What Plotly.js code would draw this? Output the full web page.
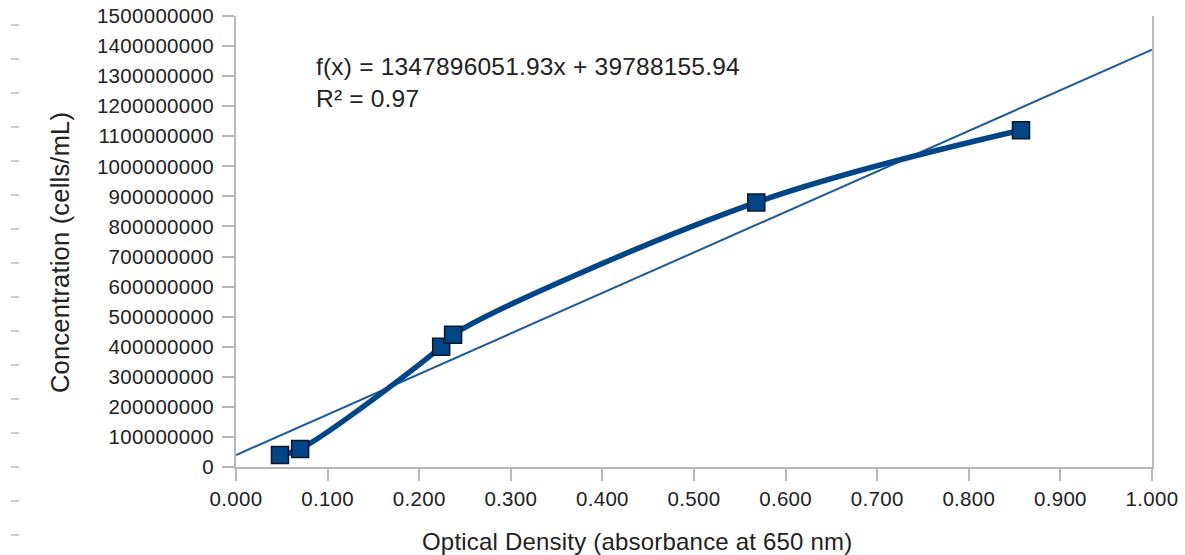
<!DOCTYPE html>
<html>
<head>
<meta charset="utf-8">
<script src="https://cdn.plot.ly/plotly-3.0.1.min.js"></script>
<style>
  html, body { margin: 0; padding: 0; background: #ffffff; }
  #chart { width: 1185px; height: 555px; }
  .xtick text, .ytick text { letter-spacing: 0.3px; }
  .annotation-text { letter-spacing: 0.2px; }
  .annotation:first-of-type .annotation-text { letter-spacing: 0.4px; }
</style>
</head>
<body>
<div id="chart"></div>
<script>
// Calibration: optical density vs. cell concentration
const opticalDensity = [0.048, 0.070, 0.224, 0.237, 0.568, 0.857];
const concentration  = [4.0e7, 6.0e7, 4.0e8, 4.4e8, 8.8e8, 1.12e9];

// Linear fit reported for the series
const fitSlope = 1347896051.93;
const fitIntercept = 39788155.94;
const fitR2 = 0.97;
const fitRange = [0, 1];

const xTickValues = [0, 0.1, 0.2, 0.3, 0.4, 0.5, 0.6, 0.7, 0.8, 0.9, 1.0];
const yTickValues = [0, 1e8, 2e8, 3e8, 4e8, 5e8, 6e8, 7e8, 8e8, 9e8, 1e9, 1.1e9, 1.2e9, 1.3e9, 1.4e9, 1.5e9];

const xTitle = 'Optical Density (absorbance at 650 nm)';
const yTitle = 'Concentration (cells/mL)';

const seriesColor = '#004586';
const axisColor = '#b8b8b8';
const textColor = '#222222';
const fontFamily = '"Liberation Sans", Arial, sans-serif';

const W = 1185, H = 555;
const margin = { l: 236, r: 33, t: 16, b: 88 };

// Convert page pixels to paper coordinates (titles and the faint row guides on the left)
const plotW = W - margin.l - margin.r;
const plotH = H - margin.t - margin.b;
const toPaperX = px => (px - margin.l) / plotW;
const toPaperY = py => (H - margin.b - py) / plotH;

const rowGuides = [];
for (let k = 0; k < 16; k++) {
  const py = 25 + 34 * k;
  rowGuides.push({
    type: 'line', xref: 'paper', yref: 'paper',
    x0: toPaperX(11), x1: toPaperX(19), y0: toPaperY(py), y1: toPaperY(py),
    line: { color: '#cccccc', width: 2 }
  });
}

const fitY = fitRange.map(x => fitSlope * x + fitIntercept);

const traces = [
  {
    x: fitRange, y: fitY, type: 'scatter', mode: 'lines',
    line: { color: '#1d5c99', width: 2 },
    hoverinfo: 'skip', showlegend: false
  },
  {
    x: opticalDensity, y: concentration, type: 'scatter', mode: 'lines+markers',
    line: { color: seriesColor, width: 5.5, shape: 'spline', smoothing: 1 },
    marker: { symbol: 'square', size: 17, color: seriesColor, line: { color: '#0a1a2a', width: 1.5 } },
    showlegend: false
  }
];

const layout = {
  width: W, height: H,
  margin: margin,
  paper_bgcolor: '#ffffff', plot_bgcolor: '#ffffff',
  font: { family: fontFamily, color: textColor, size: 21 },
  showlegend: false,
  xaxis: {
    range: [0, 1], tickvals: xTickValues,
    tickformat: '.3f',
    showgrid: false, zeroline: false,
    showline: true, linecolor: axisColor, linewidth: 2,
    ticks: 'outside', ticklen: 12, tickwidth: 2, tickcolor: axisColor,
    tickfont: { family: fontFamily, size: 20.5, color: textColor },
    ticklabelstandoff: 0,
    automargin: false
  },
  yaxis: {
    range: [0, 1.5e9], tickvals: yTickValues,
    tickformat: 'd',
    showgrid: false, zeroline: false,
    showline: true, mirror: true, linecolor: axisColor, linewidth: 2,
    ticks: 'outside', ticklen: 12, tickwidth: 2, tickcolor: axisColor,
    tickfont: { family: fontFamily, size: 20.5, color: textColor },
    ticklabelstandoff: 4,
    automargin: false
  },
  shapes: rowGuides,
  annotations: [
    {
      xref: 'x', yref: 'y', x: 0.085, y: 1.385e9,
      xanchor: 'left', yanchor: 'top', align: 'left', showarrow: false,
      text: 'f(x) = ' + fitSlope.toFixed(2) + 'x + ' + fitIntercept.toFixed(2) + '<br>R² = ' + fitR2.toFixed(2),
      font: { family: fontFamily, size: 24.5, color: textColor }
    },
    {
      xref: 'paper', yref: 'paper', x: toPaperX(637), y: toPaperY(541),
      xanchor: 'center', yanchor: 'middle', showarrow: false,
      text: xTitle,
      font: { family: fontFamily, size: 24, color: textColor }
    },
    {
      xref: 'paper', yref: 'paper', x: toPaperX(60), y: toPaperY(253),
      xanchor: 'center', yanchor: 'middle', showarrow: false, textangle: -90,
      text: yTitle,
      font: { family: fontFamily, size: 25.5, color: textColor }
    }
  ]
};

Plotly.newPlot('chart', traces, layout, { displayModeBar: false, staticPlot: true });
</script>
</body>
</html>
